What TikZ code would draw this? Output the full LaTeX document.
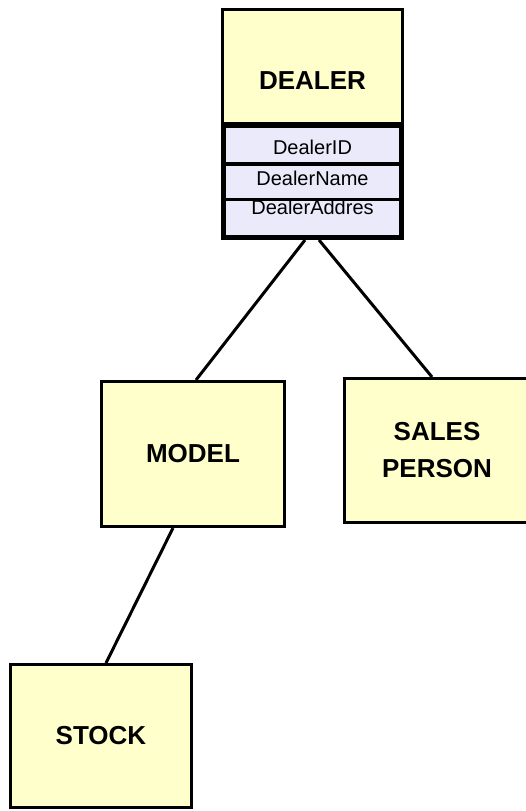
\documentclass[tikz,border=0pt]{standalone}
\usepackage{fontspec}
\setmainfont{Liberation Sans}
\usetikzlibrary{calc}

\definecolor{entityfill}{RGB}{255,255,204}
\definecolor{attrfill}{RGB}{234,234,250}

\tikzset{
  entity/.style={draw=black, line width=3pt, fill=entityfill, inner sep=0pt,
    font=\bfseries\fontsize{26}{37}\selectfont, align=center},
  attrframe/.style={draw=black, line width=5pt, fill=attrfill, inner sep=0pt},
  attrtext/.style={font=\fontsize{20}{24}\selectfont, anchor=base, inner sep=0pt},
  separator/.style={draw=black},
  link/.style={draw=black, line width=3pt},
}

\begin{document}
\begin{tikzpicture}[x=1pt, y=-1pt]
  \useasboundingbox (0,0) rectangle (525,811);

  % DEALER entity: title part and attribute compartment
  \node[entity, minimum width=180pt, minimum height=113.5pt,
        label={[font=\bfseries\fontsize{26}{30}\selectfont, yshift=-14pt]center:DEALER}]
        (dealer) at (312.5,66.25) {};
  \node[attrframe, minimum width=178pt, minimum height=112pt] (dattr) at (312.5,181.5) {};

  \node[attrtext] (aid)   at (312.5,154) {DealerID};
  \node[attrtext] (aname) at (312.5,185) {DealerName};
  \node[attrtext] (aaddr) at (312.5,214) {DealerAddres};

  % row separators inside the attribute compartment
  \draw[separator, line width=4pt] (dattr.west |- 0,164) -- (dattr.east |- 0,164);
  \draw[separator, line width=3pt] (dattr.west |- 0,199) -- (dattr.east |- 0,199);

  % other entities
  \node[entity, minimum width=183pt, minimum height=145pt] (model) at (193,454) {MODEL};
  \node[entity, minimum width=185pt, minimum height=144pt] (sales) at (437,450.5) {SALES\\PERSON};
  \node[entity, minimum width=181pt, minimum height=143pt] (stock) at (101,736) {STOCK};

  % relationships
  \draw[link] ([xshift=-7.5pt]dattr.south) -- ([xshift=3pt]model.north);
  \draw[link] ([xshift=6.5pt]dattr.south) -- ([xshift=-5pt]sales.north);
  \draw[link] ([xshift=-20pt]model.south) -- ([xshift=5pt]stock.north);
\end{tikzpicture}
\end{document}
